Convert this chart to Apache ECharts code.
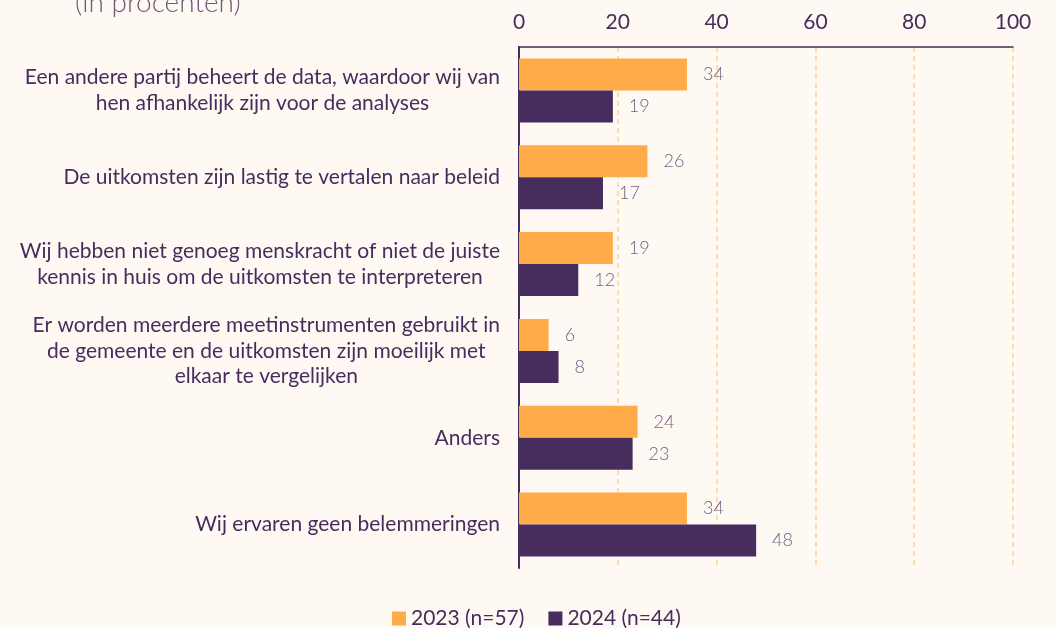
<!DOCTYPE html>
<html>
<head>
<meta charset="utf-8">
<script src="https://cdn.jsdelivr.net/npm/echarts@6/dist/echarts.min.js"></script>
<style>
  html, body { margin: 0; padding: 0; background: #fff9f4; }
  #chart { width: 1056px; height: 628px; }
</style>
</head>
<body>
<div id="chart"></div>
<script>
const categories = [
  'Een andere partij beheert de data, waardoor wij van\nhen afhankelijk zijn voor de analyses',
  'De uitkomsten zijn lastig te vertalen naar beleid',
  'Wij hebben niet genoeg menskracht of niet de juiste\nkennis in huis om de uitkomsten te interpreteren',
  'Er worden meerdere meetinstrumenten gebruikt in\nde gemeente en de uitkomsten zijn moeilijk met\nelkaar te vergelijken',
  'Anders',
  'Wij ervaren geen belemmeringen'
]
const values2023 = [34, 26, 19, 6, 24, 34]
const values2024 = [19, 17, 12, 8, 23, 48]
const seriesNames = ['2023 (n=57)', '2024 (n=44)']

const chart = echarts.init(document.getElementById('chart'))

const valueLabel = {
  show: true,
  position: 'right',
  distance: 16,
  fontFamily: 'Lato',
  fontWeight: 300,
  fontSize: 18,
  color: '#6f5f80'
}

const option = {
  backgroundColor: '#fff9f4',
  textStyle: { fontFamily: 'Lato' },
  title: {
    text: '(in procenten)',
    left: 70,
    top: -16,
    textStyle: { fontFamily: 'Lato', fontWeight: 300, fontSize: 28, color: '#6b5b7b' }
  },
  legend: {
    data: seriesNames,
    bottom: -6,
    left: 387,
    itemWidth: 14,
    itemHeight: 14,
    itemGap: 24,
    icon: 'rect',
    textStyle: { fontFamily: 'Lato', fontSize: 21, color: '#472c5e' }
  },
  grid: {
    left: 519,
    right: 43,
    top: 47,
    bottom: 60
  },
  xAxis: {
    type: 'value',
    position: 'top',
    min: 0,
    max: 100,
    interval: 20,
    axisLine: { show: true, lineStyle: { color: '#472c5e', width: 1.5 } },
    axisTick: { show: false },
    axisLabel: { fontFamily: 'Lato', fontSize: 21, color: '#472c5e', margin: 14 },
    splitLine: { show: true, lineStyle: { color: '#ffcf94', type: [5, 4], width: 1.5 } }
  },
  yAxis: {
    type: 'category',
    inverse: true,
    data: categories,
    axisLine: { show: true, lineStyle: { color: '#472c5e', width: 2 } },
    axisTick: { show: false },
    axisLabel: {
      margin: 19,
      formatter: (v) => '{c|' + v + '}',
      rich: {
        c: { align: 'center', fontFamily: 'Lato', fontSize: 21, lineHeight: 25.5, color: '#472c5e' }
      }
    }
  },
  series: [
    {
      name: seriesNames[0],
      type: 'bar',
      data: values2023,
      barWidth: 32,
      barGap: '0%',
      itemStyle: { color: '#ffab4a' },
      label: valueLabel
    },
    {
      name: seriesNames[1],
      type: 'bar',
      data: values2024,
      barWidth: 32,
      itemStyle: { color: '#472c5e' },
      label: valueLabel
    }
  ]
}

chart.setOption(option)
</script>
</body>
</html>
